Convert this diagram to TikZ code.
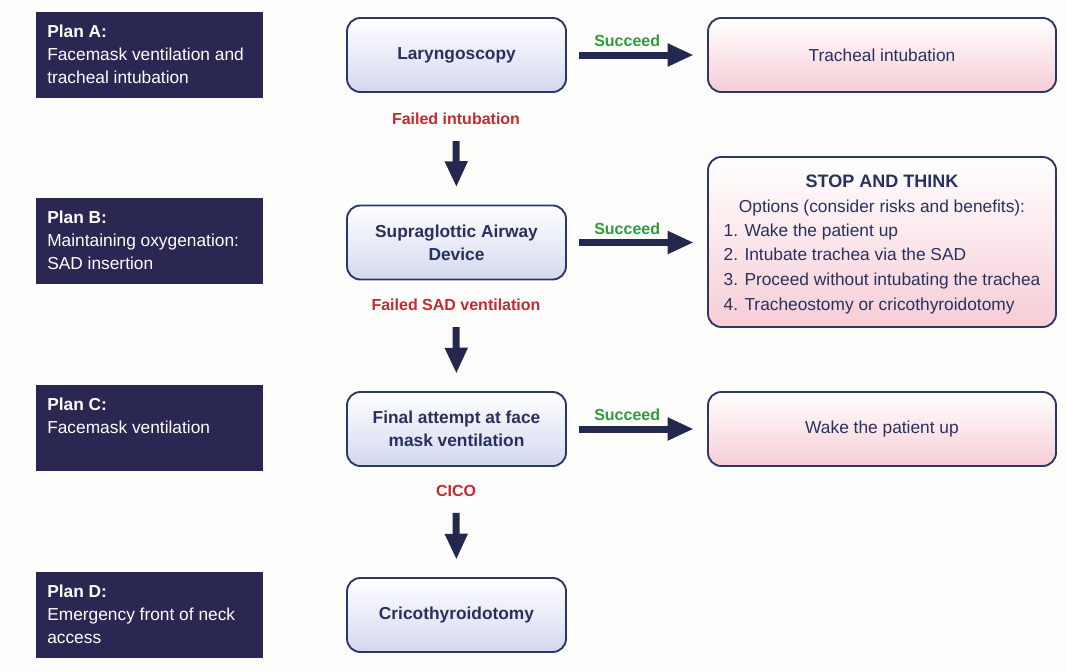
\documentclass[tikz,border=0pt]{standalone}
\usepackage{fontspec}
\setmainfont{Liberation Sans}
\usetikzlibrary{arrows.meta}
\definecolor{bgc}{HTML}{FDFDFB}
\definecolor{planbg}{HTML}{2A2752}
\definecolor{bordc}{HTML}{2B3766}
\definecolor{txtc}{HTML}{28315E}
\definecolor{lav}{HTML}{D3D8EE}
\definecolor{pinkc}{HTML}{F6CDD6}
\definecolor{redc}{HTML}{C42A30}
\definecolor{greenc}{HTML}{2E9B3C}
\definecolor{arrc}{HTML}{25284E}
\tikzset{
  plan/.style={fill=planbg, draw=none, minimum width=170.25pt, minimum height=64.5pt, inner sep=0pt, anchor=north west},
  plantext/.style={anchor=north west, inner sep=0pt, align=left, text=white, font=\fontsize{13}{17}\selectfont},
  midbox/.style={draw=bordc, line width=1.4pt, rounded corners=10pt, top color=white, bottom color=lav, minimum width=164.25pt, minimum height=55.5pt, inner sep=2pt, text=txtc, align=center, font=\bfseries\fontsize{13}{17}\selectfont},
  rightbox/.style={draw=bordc, line width=1.4pt, rounded corners=10pt, top color=white, bottom color=pinkc, minimum width=261pt, minimum height=55.5pt, inner sep=2pt, text=txtc, align=center, font=\fontsize{13}{17}\selectfont},
  faillab/.style={text=redc, font=\bfseries\fontsize{12}{14}\selectfont, inner sep=1pt},
  succlab/.style={text=greenc, font=\bfseries\fontsize{12}{14}\selectfont, inner sep=1pt},
  bigarrow/.style={draw=arrc, line width=5.25pt, -{Triangle[length=19.5pt,width=16pt]}},
}
\begin{document}
\begin{tikzpicture}[x=0.75pt,y=-0.75pt]
\fill[bgc] (0,0) rectangle (1067,671);
\useasboundingbox (0,0) rectangle (1067,671);

% plan boxes
\node[plan] (pa) at (36,12) {};
\node[plan] (pb) at (36,198) {};
\node[plan] (pc) at (36,385) {};
\node[plan] (pd) at (36,572) {};
\node[plantext] (pat) at (47,25) {\textbf{Plan A:}\\Facemask ventilation and\\tracheal intubation};
\node[plantext] (pbt) at (47,211) {\textbf{Plan B:}\\Maintaining oxygenation:\\SAD insertion};
\node[plantext] (pct) at (47,398) {\textbf{Plan C:}\\Facemask ventilation};
\node[plantext] (pdt) at (47,585) {\textbf{Plan D:}\\Emergency front of neck\\access};

% middle boxes
\node[midbox] (lar) at (456.5,55) {Laryngoscopy};
\node[midbox] (sad) at (456.5,242.5) {Supraglottic Airway\\Device};
\node[midbox] (fin) at (456.5,429) {Final attempt at face\\mask ventilation};
\node[midbox] (cri) at (456.5,615) {Cricothyroidotomy};

% right boxes
\node[rightbox] (tra) at (882,55) {Tracheal intubation};
\node[rightbox, minimum height=127.5pt, font=\fontsize{13}{18.5}\selectfont] (stp) at (882,242)
  {\rule{0pt}{16pt}{\bfseries\fontsize{13.5}{18.5}\selectfont STOP AND THINK}\\Options (consider risks and benefits):\\[1pt]
   \begin{tabular}{@{}l@{}}1. Wake the patient up\\2. Intubate trachea via the SAD\\3. Proceed without intubating the trachea\\4. Tracheostomy or cricothyroidotomy\end{tabular}};
\node[rightbox] (wak) at (882,429) {Wake the patient up};

% failure labels
\node[faillab] (f1) at (456,119) {Failed intubation};
\node[faillab] (f2) at (456,305) {Failed SAD ventilation};
\node[faillab] (f3) at (456,491) {CICO};

% vertical arrows
\draw[bigarrow, shorten <=11pt, shorten >=13pt] (f1.south) -- (sad.north);
\draw[bigarrow, shorten <=11pt, shorten >=13pt] (f2.south) -- (fin.north);
\draw[bigarrow, shorten <=11pt, shorten >=13pt] (f3.south) -- (cri.north);

% horizontal arrows
\draw[bigarrow, shorten <=9pt, shorten >=10pt] (lar.east) -- node[succlab, pos=0.43, above=2.5pt] (s1) {Succeed} (tra.west);
\draw[bigarrow, shorten <=9pt, shorten >=10pt] (sad.east) -- node[succlab, pos=0.43, above=2.5pt] (s2) {Succeed} (sad.east -| stp.west);
\draw[bigarrow, shorten <=9pt, shorten >=10pt] (fin.east) -- node[succlab, pos=0.43, above=2.5pt] (s3) {Succeed} (wak.west);
\end{tikzpicture}
\end{document}
